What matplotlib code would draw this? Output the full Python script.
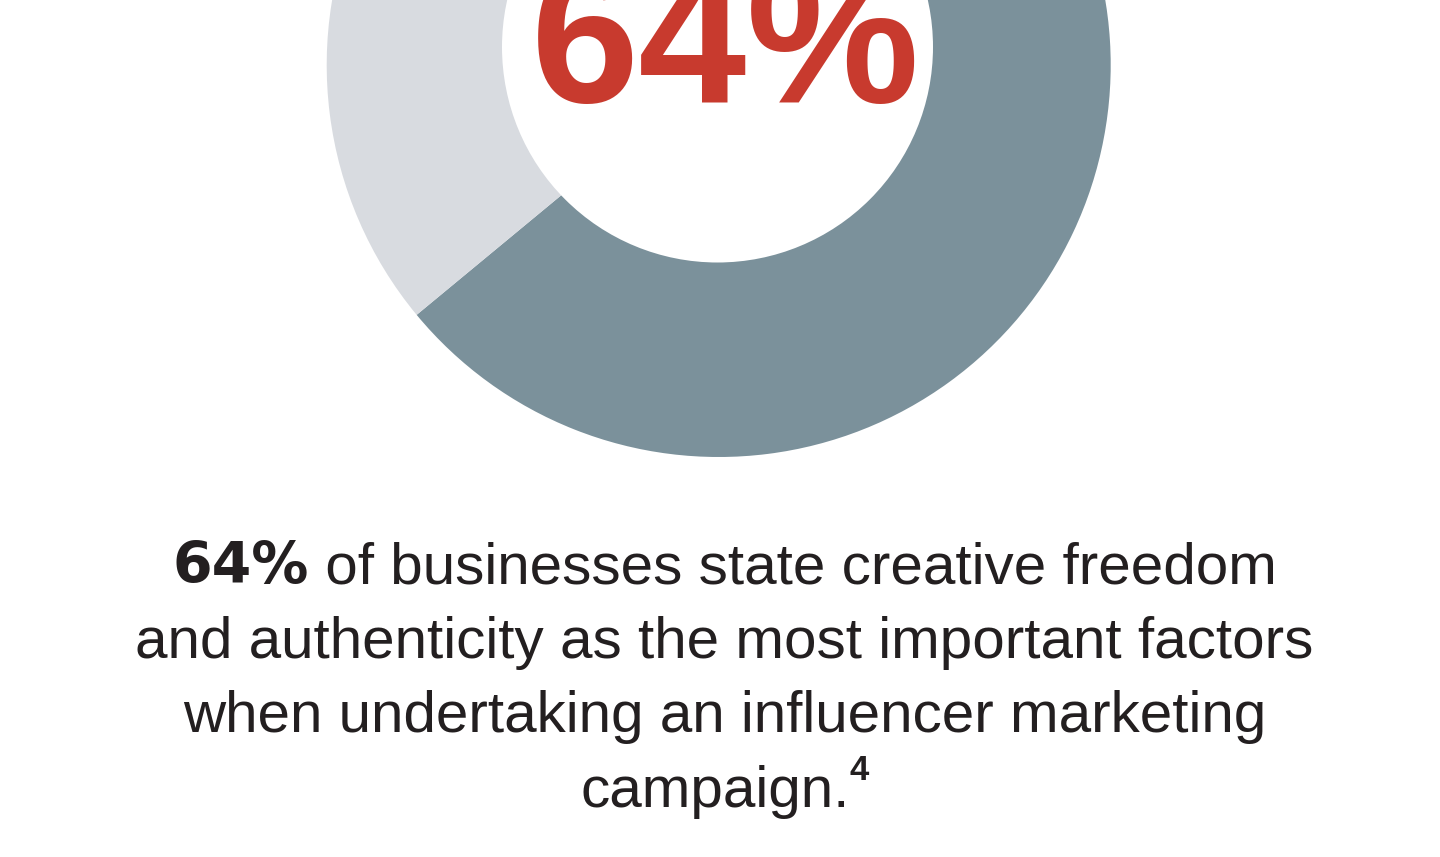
import matplotlib
matplotlib.use("Agg")
import matplotlib.pyplot as plt
from matplotlib.patches import Circle

# Survey result
shares = [64, 36]
segment_names = ["Creative freedom & authenticity", "Other factors"]
segment_colors = ["#7b919b", "#d8dbe0"]
headline = "64%"

# Caption, line by line: (text, family, weight, size, baseline shift)
caption_rows = [
    [("64%", "DejaVu Sans", "bold", 41, 0),
     (" of businesses state creative freedom", "Liberation Sans", "normal", 42, 0)],
    [("and authenticity as the most important factors", "Liberation Sans", "normal", 42, 0)],
    [("when undertaking an influencer marketing", "Liberation Sans", "normal", 42, 0)],
    [("campaign.", "Liberation Sans", "normal", 42, 0),
     ("4", "Liberation Sans", "bold", 25, 27)],
]

W, H = 1440, 857
fig = plt.figure(figsize=(W / 100, H / 100), dpi=100)
ax = fig.add_axes([0, 0, 1, 1])

INK = "#231f20"
RED = "#c83a2e"

# Donut: outer ring, then an off-centre white hole
cx, cy, R = 718.7, H - 65, 392
ax.pie(shares, colors=segment_colors, startangle=90, counterclock=False,
       radius=R, center=(cx, cy), wedgeprops=dict(linewidth=0))
ax.add_patch(Circle((717.5, H - 47), 215.5, facecolor="white", edgecolor="none", zorder=3))

ax.set_xlim(0, W)
ax.set_ylim(0, H)
ax.set_aspect("equal")
ax.axis("off")

ax.text(725, H - 102, headline, ha="center", va="baseline", fontsize=140,
        fontweight="bold", color=RED, family="Liberation Sans", zorder=4)

renderer = fig.canvas.get_renderer()
center_x = 724.5
baselines = [583, 658, 732, 807]
for row, base in zip(caption_rows, baselines):
    pieces = []
    for txt, fam, weight, size, shift in row:
        t = ax.text(0, H - base + shift, txt, ha="left", va="baseline",
                    fontsize=size, fontweight=weight, color=INK, family=fam, zorder=4)
        w = t.get_window_extent(renderer).width
        pieces.append((t, w))
    total = sum(w for _, w in pieces)
    x = center_x - total / 2
    for t, w in pieces:
        t.set_x(x)
        x += w

fig.savefig("out.png", dpi=100, facecolor="white")
